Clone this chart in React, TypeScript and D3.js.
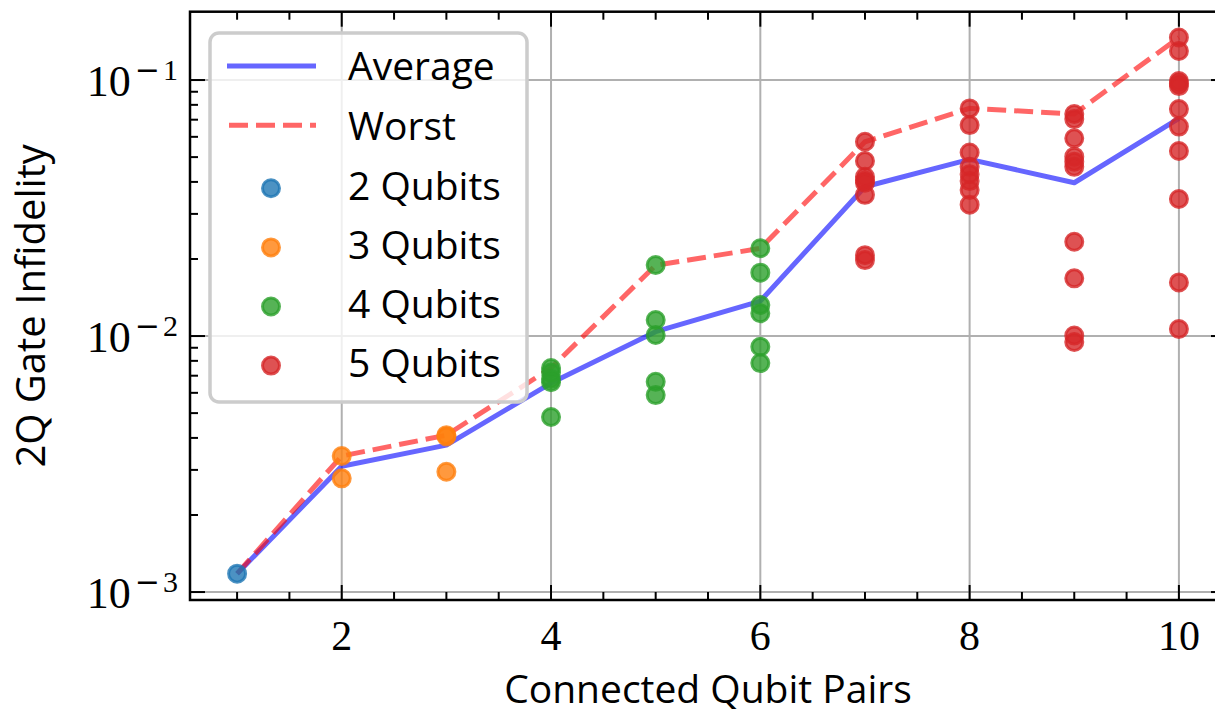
import React from "react";
import * as d3 from "d3";

// ---- data ----
const pairs = [1, 2, 3, 4, 5, 6, 7, 8, 9, 10];
const avgInfidelity = [0.00118, 0.0031, 0.00375, 0.00655, 0.0104, 0.0137, 0.0383, 0.049, 0.0397, 0.0709];
const worstInfidelity = [0.00118, 0.0034, 0.0041, 0.0075, 0.0189, 0.022, 0.0574, 0.0775, 0.0737, 0.1466];

const q2X = [1];
const q2Y = [0.00118];
const q3X = [2, 2, 3, 3, 3];
const q3Y = [0.0034, 0.00278, 0.0041, 0.00405, 0.00295];
const q4X = [4, 4, 4, 4, 4, 5, 5, 5, 5, 5, 6, 6, 6, 6, 6, 6];
const q4Y = [0.0075, 0.0072, 0.0068, 0.0066, 0.00483, 0.01894, 0.01155, 0.01009, 0.00663, 0.00588, 0.02202, 0.01768, 0.01322, 0.01227, 0.00908, 0.00784];
const q5X = [7, 7, 7, 7, 7, 7, 7, 7, 8, 8, 8, 8, 8, 8, 8, 8, 9, 9, 9, 9, 9, 9, 9, 9, 9, 9, 10, 10, 10, 10, 10, 10, 10, 10, 10, 10, 10];
const q5Y = [0.0574, 0.0483, 0.0419, 0.0405, 0.0397, 0.0356, 0.0207, 0.0198,
  0.0775, 0.0667, 0.0521, 0.0458, 0.0429, 0.0403, 0.0372, 0.0326,
  0.0737, 0.0704, 0.0592, 0.0502, 0.048, 0.0458, 0.02335, 0.0168, 0.01005, 0.00948,
  0.1466, 0.1298, 0.0991, 0.097, 0.0947, 0.077, 0.0658, 0.0528, 0.0343, 0.0162, 0.01065];

const seriesNames = ["2 Qubits", "3 Qubits", "4 Qubits", "5 Qubits"];
const seriesColors = ["#1f77b4", "#ff7f0e", "#2ca02c", "#d62728"];
const lineNames = ["Average", "Worst"];
const xTickLabels = ["2", "4", "6", "8", "10"];
const yTickExponents = ["3", "2", "1"];

const W = 1215, H = 714;
const L = 190, R = 1226, T = 11.7, B = 600;

export default function App() {
  const x = d3.scaleLinear().domain([0.55, 10.45]).range([L, R]);
  const y = d3.scaleLog().domain([0.000931, 0.1849]).range([B, T]);

  const line = d3.line<number>().x((_, i) => x(pairs[i])).y((d) => y(d));

  const xMajor = [2, 4, 6, 8, 10];
  const xMinor = d3.range(1, 10.01, 0.5).filter((v) => !xMajor.includes(v));
  const yAll = y.ticks();
  const yMajor = [0.001, 0.01, 0.1];
  const yMinor = yAll.filter((v) => !yMajor.some((m) => Math.abs(m - v) / m < 1e-6));

  const groups = [
    { xs: q2X, ys: q2Y },
    { xs: q3X, ys: q3Y },
    { xs: q4X, ys: q4Y },
    { xs: q5X, ys: q5Y },
  ];

  const sans = "'Open Sans', sans-serif";
  const serif = "'Liberation Serif', 'DejaVu Serif', serif";
  const majLen = 15, minLen = 8;

  return (
    <svg width={W} height={H} style={{ position: "absolute", left: 0, top: 0, background: "#fff" }}>
      <defs>
        <clipPath id="plotclip">
          <rect x={L} y={T} width={R - L} height={B - T} />
        </clipPath>
      </defs>
      <rect x={0} y={0} width={W} height={H} fill="#fff" />
      {/* grid */}
      <g stroke="#b0b0b0" strokeWidth={2}>
        {xMajor.map((v) => (
          <line key={"gx" + v} x1={x(v)} x2={x(v)} y1={T} y2={B} />
        ))}
        {yMajor.map((v) => (
          <line key={"gy" + v} x1={L} x2={R} y1={y(v)} y2={y(v)} />
        ))}
      </g>
      {/* lines and points */}
      <g clipPath="url(#plotclip)">
        <path d={line(avgInfidelity) || ""} fill="none" stroke="#0000ff" strokeOpacity={0.6} strokeWidth={5} strokeLinejoin="round" />
        <path d={line(worstInfidelity) || ""} fill="none" stroke="#ff0000" strokeOpacity={0.6} strokeWidth={5} strokeDasharray="19 8" />
        {groups.map((g, gi) =>
          g.xs.map((xv, i) => (
            <circle key={gi + "-" + i} cx={x(xv)} cy={y(g.ys[i])} r={8.5}
              fill={seriesColors[gi]} fillOpacity={0.8}
              stroke={seriesColors[gi]} strokeOpacity={0.8} strokeWidth={3} />
          ))
        )}
      </g>
      {/* spines */}
      <g stroke="#000" strokeWidth={2.5} fill="none">
        <rect x={L} y={T} width={R - L} height={B - T} />
      </g>
      {/* ticks */}
      <g stroke="#000" strokeWidth={2}>
        {xMajor.map((v) => (
          <g key={"xt" + v}>
            <line x1={x(v)} x2={x(v)} y1={B} y2={B - majLen} />
            <line x1={x(v)} x2={x(v)} y1={T} y2={T + majLen} />
          </g>
        ))}
        {xMinor.map((v) => (
          <g key={"xm" + v}>
            <line x1={x(v)} x2={x(v)} y1={B} y2={B - minLen} />
            <line x1={x(v)} x2={x(v)} y1={T} y2={T + minLen} />
          </g>
        ))}
        {yMajor.map((v) => (
          <g key={"yt" + v}>
            <line x1={L} x2={L + majLen} y1={y(v)} y2={y(v)} />
            <line x1={R} x2={R - majLen} y1={y(v)} y2={y(v)} />
          </g>
        ))}
        {yMinor.map((v) => (
          <g key={"ym" + v}>
            <line x1={L} x2={L + minLen} y1={y(v)} y2={y(v)} />
            <line x1={R} x2={R - minLen} y1={y(v)} y2={y(v)} />
          </g>
        ))}
      </g>
      {/* tick labels */}
      <g fontFamily={serif} fill="#000">
        {xMajor.map((v, i) => (
          <text key={"xl" + v} x={x(v)} y={650} textAnchor="middle" fontSize={42}>{xTickLabels[i]}</text>
        ))}
        {yMajor.map((v, i) => (
          <text key={"yl" + v} x={178} y={y(v) + 16} textAnchor="end">
            <tspan fontSize={44}>10</tspan>
            <tspan dx={4} dy={-16} fontSize={30} fontFamily="'DejaVu Serif', serif">−</tspan>
            <tspan dx={3} fontSize={30}>{yTickExponents[i]}</tspan>
          </text>
        ))}
      </g>
      {/* axis labels */}
      <text x={(L + R) / 2} y={703} textAnchor="middle" fontFamily={sans} fontSize={39}>Connected Qubit Pairs</text>
      <text transform={`translate(45, ${(T + B) / 2}) rotate(-90)`} textAnchor="middle" fontFamily={sans} fontSize={40}>2Q Gate Infidelity</text>
      {/* legend */}
      <g>
        <rect x={210} y={33} width={317} height={369} rx={9} fill="#fff" fillOpacity={0.8} stroke="#cccccc" strokeWidth={3.5} />
        <line x1={227} x2={316} y1={66} y2={66} stroke="#0000ff" strokeOpacity={0.6} strokeWidth={5} />
        <line x1={229} x2={316} y1={125.3} y2={125.3} stroke="#ff0000" strokeOpacity={0.6} strokeWidth={5} strokeDasharray="19 8" />
        <text x={348} y={80} fontFamily={sans} fontSize={39}>{lineNames[0]}</text>
        <text x={348} y={140} fontFamily={sans} fontSize={39}>{lineNames[1]}</text>
        {seriesNames.map((n, i) => (
          <g key={n}>
            <circle cx={271} cy={188.3 + i * 59.1} r={8.5} fill={seriesColors[i]} fillOpacity={0.8}
              stroke={seriesColors[i]} strokeOpacity={0.8} strokeWidth={3} />
            <text x={348} y={200 + i * 59.1} fontFamily={sans} fontSize={39}>{n}</text>
          </g>
        ))}
      </g>
    </svg>
  );
}
